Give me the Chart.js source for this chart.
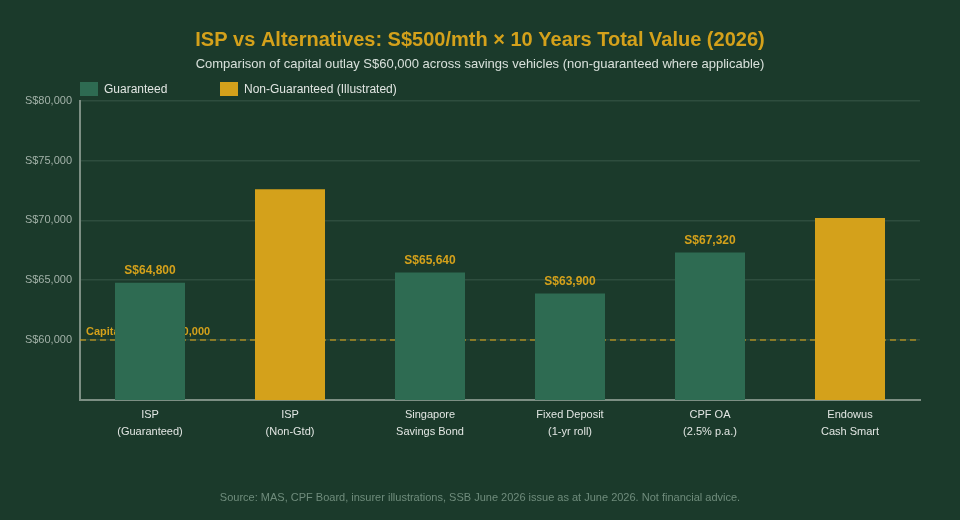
<!DOCTYPE html>
<html>
<head>
<meta charset="utf-8">
<script src="https://cdn.jsdelivr.net/npm/chart.js@4/dist/chart.umd.min.js"></script>
<style>
  html, body { margin: 0; padding: 0; background: #1b3a2b; }
  #wrap { width: 960px; height: 520px; position: relative; }
  canvas { display: block; }
</style>
</head>
<body>
<div id="wrap"><canvas id="c" width="960" height="520"></canvas></div>
<script>
const categories = [
  ["ISP", "(Guaranteed)"],
  ["ISP", "(Non-Gtd)"],
  ["Singapore", "Savings Bond"],
  ["Fixed Deposit", "(1-yr roll)"],
  ["CPF OA", "(2.5% p.a.)"],
  ["Endowus", "Cash Smart"]
];
const guaranteedValues = [64800, null, 65640, 63900, 67320, null];
const nonGuaranteedValues = [null, 72600, null, null, null, 70200];
const seriesNames = ["Guaranteed", "Non-Guaranteed (Illustrated)"];
const capitalOutlay = 60000;
const capitalLabel = "Capital Outlay S$60,000";
const yMin = 55000, yMax = 80000, yStep = 5000;
const titleText = "ISP vs Alternatives: S$500/mth \u00d7 10 Years Total Value (2026)";
const subtitleText = "Comparison of capital outlay S$60,000 across savings vehicles (non-guaranteed where applicable)";
const sourceText = "Source: MAS, CPF Board, insurer illustrations, SSB June 2026 issue as at June 2026. Not financial advice.";

const GREEN = "#2e6b52";
const GOLD = "#d4a11b";
const FONT = "'Liberation Sans', Arial, Helvetica, sans-serif";

function fmt(v) { return "S$" + v.toLocaleString("en-US"); }

const bgPlugin = {
  id: "bg",
  beforeDraw(chart) {
    const ctx = chart.ctx;
    ctx.save();
    ctx.fillStyle = "#1b3a2b";
    ctx.fillRect(0, 0, chart.width, chart.height);
    ctx.restore();
  }
};

const capitalLine = {
  id: "capitalLine",
  beforeDatasetsDraw(chart) {
    const {ctx, chartArea} = chart;
    const y = chart.scales.y.getPixelForValue(capitalOutlay);
    ctx.save();
    ctx.strokeStyle = "rgba(212,161,27,0.75)";
    ctx.lineWidth = 1.5;
    ctx.setLineDash([6, 4]);
    ctx.beginPath();
    ctx.moveTo(chartArea.left, y);
    ctx.lineTo(chartArea.right, y);
    ctx.stroke();
    ctx.setLineDash([]);
    ctx.fillStyle = GOLD;
    ctx.font = "bold 11px " + FONT;
    ctx.textAlign = "left";
    ctx.textBaseline = "bottom";
    ctx.fillText(capitalLabel, chartArea.left + 6, y - 3);
    ctx.restore();
  }
};

const valueLabels = {
  id: "valueLabels",
  afterDatasetsDraw(chart) {
    const ctx = chart.ctx;
    const meta = chart.getDatasetMeta(0);
    ctx.save();
    ctx.fillStyle = GOLD;
    ctx.font = "bold 12px " + FONT;
    ctx.textAlign = "center";
    ctx.textBaseline = "bottom";
    meta.data.forEach((bar, i) => {
      const v = guaranteedValues[i];
      if (v == null) return;
      ctx.fillText(fmt(v), bar.x, bar.y - 6);
    });
    ctx.restore();
  }
};

const customLegend = {
  id: "customLegend",
  afterDraw(chart) {
    const ctx = chart.ctx;
    const left = chart.chartArea.left;
    const positions = [left, left + 140];
    const colors = [GREEN, GOLD];
    ctx.save();
    ctx.font = "12px " + FONT;
    ctx.textBaseline = "middle";
    ctx.textAlign = "left";
    seriesNames.forEach((name, i) => {
      const x = positions[i];
      ctx.fillStyle = colors[i];
      ctx.fillRect(x, 82, 18, 14);
      ctx.fillStyle = "#e2e6e3";
      ctx.fillText(name, x + 24, 89.5);
    });
    ctx.fillStyle = "#6f8c7c";
    ctx.font = "11px " + FONT;
    ctx.textAlign = "center";
    ctx.fillText(sourceText, chart.width / 2, 498);
    ctx.restore();
  }
};

new Chart(document.getElementById("c"), {
  type: "bar",
  data: {
    labels: categories,
    datasets: [
      { label: seriesNames[0], data: guaranteedValues, backgroundColor: GREEN, grouped: false },
      { label: seriesNames[1], data: nonGuaranteedValues, backgroundColor: GOLD, grouped: false }
    ]
  },
  options: {
    responsive: false,
    animation: false,
    devicePixelRatio: 1,
    layout: { padding: { left: 0, right: 0, top: 0, bottom: 73 } },
    datasets: { bar: { categoryPercentage: 1.0, barPercentage: 0.5 } },
    plugins: {
      legend: { display: false },
      tooltip: { enabled: false },
      title: {
        display: true, text: titleText, color: "#d4a11b",
        font: { family: FONT, size: 20, weight: "bold" },
        padding: { top: 28, bottom: 5 }
      },
      subtitle: {
        display: true, text: subtitleText, color: "#d8e0db",
        font: { family: FONT, size: 13 },
        padding: { top: 0, bottom: 28 }
      }
    },
    scales: {
      x: {
        grid: { display: false, drawTicks: false },
        border: { display: true, color: "#7d8f84", width: 2 },
        ticks: { color: "#e2e6e3", font: { family: FONT, size: 11, lineHeight: 1.5 }, padding: 7, maxRotation: 0, autoSkip: false }
      },
      y: {
        min: yMin, max: yMax,
        afterFit: (scale) => { scale.width = 80; },
        grid: { color: "#2e4d3e", lineWidth: 1.5, drawTicks: false },
        border: { display: true, color: "#7d8f84", width: 2 },
        ticks: {
          stepSize: yStep, color: "#a3b2a9", padding: 8,
          font: { family: FONT, size: 11 },
          callback: (v) => v <= yMin ? "" : fmt(v)
        }
      },
      yRight: {
        position: "right",
        min: yMin, max: yMax,
        afterFit: (scale) => { scale.width = 40; },
        grid: { display: false, drawTicks: false },
        border: { display: false },
        ticks: { display: false }
      }
    }
  },
  plugins: [bgPlugin, capitalLine, valueLabels, customLegend]
});
</script>
</body>
</html>
